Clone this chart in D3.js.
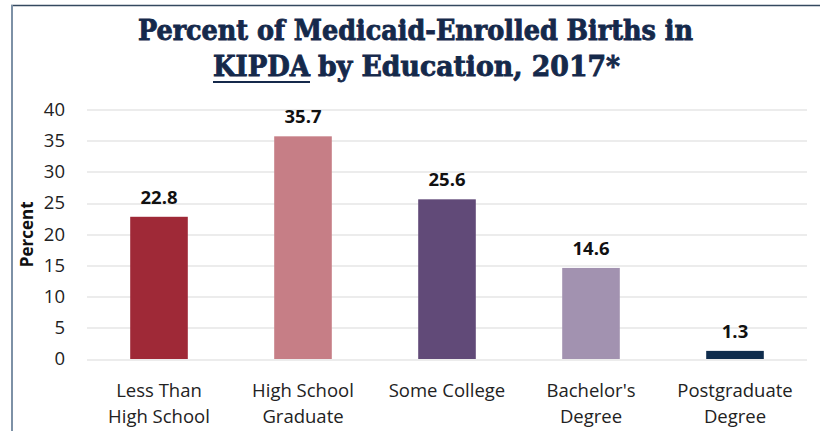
<!DOCTYPE html>
<html>
<head>
<meta charset="utf-8">
<script src="https://cdn.jsdelivr.net/npm/d3@7"></script>
<style>
  body { margin: 0; background: #fff; }
  svg { display: block; }
</style>
</head>
<body>
<div id="chart"></div>
<script>
var categories = [["Less Than", "High School"], ["High School", "Graduate"], ["Some College"], ["Bachelor's", "Degree"], ["Postgraduate", "Degree"]];
var values = [22.8, 35.7, 25.6, 14.6, 1.3];
var colors = ["#9f2937", "#c67e86", "#614a78", "#a292b0", "#0f2c4d"];
var yTicks = [0, 5, 10, 15, 20, 25, 30, 35, 40];

var dim = { width: 820, height: 431,
  margin: { top: 109.5, right: 13, bottom: 72, left: 87 } };
dim.plot = {
  width: dim.width - dim.margin.left - dim.margin.right,
  height: dim.height - dim.margin.top - dim.margin.bottom
};
var font = "'Open Sans', sans-serif";

var svg = d3.select("#chart").append("svg")
    .attr("width", dim.width)
    .attr("height", dim.height);

// frame
svg.append("line").attr("x1", 11).attr("x2", 820).attr("y1", 5.5).attr("y2", 5.5)
    .attr("stroke", "#34495f").attr("stroke-width", 1.5);
svg.append("line").attr("x1", 12).attr("x2", 12).attr("y1", 5).attr("y2", 431)
    .attr("stroke", "#7d91a6").attr("stroke-width", 2);

// title
function titleText(xpos, ypos, len, str) {
  return svg.append("text")
      .attr("x", xpos).attr("y", ypos)
      .attr("font-family", "'DejaVu Serif Condensed', 'DejaVu Serif'")
      .attr("font-stretch", "condensed")
      .attr("font-weight", "bold")
      .attr("font-size", 27)
      .attr("fill", "#15294b")
      .attr("stroke", "#15294b").attr("stroke-width", 0.8)
      .attr("textLength", len).attr("lengthAdjust", "spacingAndGlyphs")
      .text(str);
}
titleText(138, 39.5, 555, "Percent of Medicaid-Enrolled Births in");
titleText(213, 75.5, 97, "KIPDA");
titleText(318, 75.5, 302, "by Education, 2017*");
svg.append("line").attr("x1", 213).attr("x2", 310).attr("y1", 82).attr("y2", 82)
    .attr("stroke", "#15294b").attr("stroke-width", 2);

var g = svg.append("g")
    .attr("transform", "translate(" + dim.margin.left + "," + dim.margin.top + ")");

var x = d3.scaleBand()
    .domain(d3.range(values.length))
    .range([0, dim.plot.width])
    .paddingInner(0.6)
    .paddingOuter(0.3);
var y = d3.scaleLinear()
    .domain([0, 40])
    .range([dim.plot.height, 0]);

// gridlines
g.selectAll("line.grid").data(yTicks).enter()
    .append("line")
    .attr("class", "grid")
    .attr("x1", 0).attr("x2", dim.plot.width)
    .attr("y1", function(d) { return Math.round(y(d)) + 0.5; })
    .attr("y2", function(d) { return Math.round(y(d)) + 0.5; })
    .attr("stroke", "#d9d9d9").attr("stroke-width", 1.2);

// y axis labels
var yAxis = d3.axisLeft(y).tickValues(yTicks).tickSize(0).tickPadding(22);
g.append("g").call(yAxis)
    .call(function(s) { s.select(".domain").remove(); })
    .selectAll("text")
    .attr("font-family", font)
    .attr("font-size", 18.5)
    .attr("fill", "#222");

svg.append("text")
    .attr("transform", "translate(33," + (dim.margin.top + y(20)) + ") rotate(-90)")
    .attr("text-anchor", "middle")
    .attr("font-family", font)
    .attr("font-weight", "bold")
    .attr("font-size", 17)
    .attr("fill", "#111")
    .text("Percent");

// bars
g.selectAll("rect.bar").data(values).enter()
    .append("rect")
    .attr("class", "bar")
    .attr("x", function(d, i) { return x(i); })
    .attr("width", x.bandwidth())
    .attr("y", function(d) { return y(d); })
    .attr("height", function(d) { return y(0) - y(d); })
    .attr("fill", function(d, i) { return colors[i]; });

// value labels
g.selectAll("text.val").data(values).enter()
    .append("text")
    .attr("class", "val")
    .attr("x", function(d, i) { return x(i) + x.bandwidth() / 2; })
    .attr("y", function(d) { return y(d) - 13; })
    .attr("text-anchor", "middle")
    .attr("font-family", font)
    .attr("font-weight", "bold")
    .attr("font-size", 18.5)
    .attr("fill", "#111")
    .text(function(d) { return d.toFixed(1); });

// x labels
var xl = g.selectAll("text.cat").data(categories).enter()
    .append("text")
    .attr("class", "cat")
    .attr("text-anchor", "middle")
    .attr("font-family", font)
    .attr("font-size", 18.5)
    .attr("fill", "#222");
xl.selectAll("tspan").data(function(d, i) { return d.map(function(t) { return { t: t, i: i }; }); })
    .enter().append("tspan")
    .attr("x", function(d) { return x(d.i) + x.bandwidth() / 2; })
    .attr("y", function(d, j) { return dim.plot.height + 38 + j * 26; })
    .text(function(d) { return d.t; });
</script>
</body>
</html>
